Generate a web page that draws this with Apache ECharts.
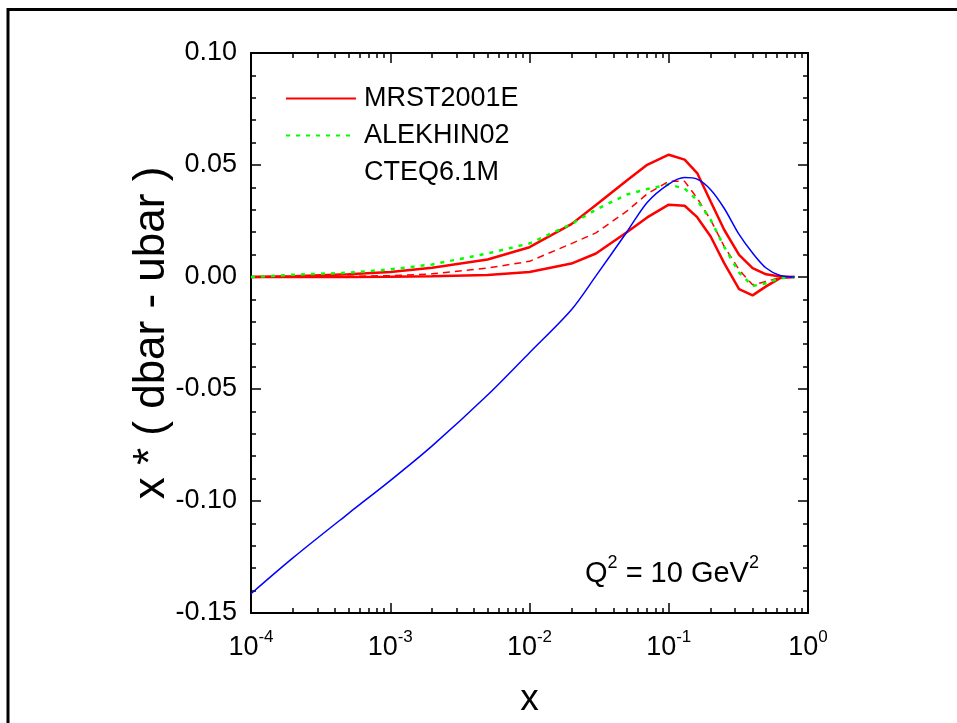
<!DOCTYPE html>
<html><head><meta charset="utf-8">
<script src="https://cdn.jsdelivr.net/npm/echarts@6/dist/echarts.min.js"></script>
<style>html,body{margin:0;padding:0;background:#fff}#c{width:957px;height:723px}</style>
</head><body><div id="c"></div>
<script>
// ---- data ----
const xValues     = [1e-4, 2e-4, 5e-4, 1e-3, 2e-3, 5e-3, 0.01, 0.02, 0.03, 0.05, 0.07, 0.1, 0.13, 0.16, 0.2, 0.25, 0.32, 0.4, 0.5, 0.63, 0.8];
const mrstUpper   = [0.0, 0.0003, 0.0012, 0.0022, 0.0041, 0.0078, 0.0133, 0.0236, 0.0321, 0.0431, 0.0501, 0.0546, 0.0524, 0.0464, 0.0337, 0.0211, 0.0099, 0.0040, 0.0012, 0.0002, 0.0];
const mrstLower   = [0.0, 0.0, 0.0, 0.0001, 0.0003, 0.0009, 0.0022, 0.0060, 0.0105, 0.0200, 0.0266, 0.0323, 0.0318, 0.0267, 0.0181, 0.0062, -0.0054, -0.0082, -0.0042, -0.0005, 0.0];
const mrstCentral = [0.0, 0.0001, 0.0003, 0.0006, 0.0014, 0.0040, 0.0070, 0.0149, 0.0197, 0.0294, 0.0371, 0.0427, 0.0427, 0.0352, 0.0255, 0.0137, 0.0032, -0.0035, -0.0020, -0.0002, 0.0];
const alekhin02   = [0.0, 0.0010, 0.0019, 0.0034, 0.0056, 0.0105, 0.0150, 0.0236, 0.0301, 0.0368, 0.0393, 0.0413, 0.0395, 0.0343, 0.0255, 0.0135, 0.0020, -0.0040, -0.0028, -0.0005, 0.0];
const cteq61m     = [-0.1414, -0.1254, -0.1056, -0.0909, -0.0754, -0.0527, -0.0338, -0.0146, 0.0005, 0.0201, 0.0333, 0.0415, 0.0444, 0.0437, 0.0390, 0.0307, 0.0190, 0.0107, 0.0040, 0.0007, 0.0];
const xTickExponents = [-4, -3, -2, -1, 0];
const yTickValues = [-0.15, -0.10, -0.05, 0.00, 0.05, 0.10];
const legendNames = ['MRST2001E', 'ALEKHIN02', 'CTEQ6.1M'];

const FONT = '"Liberation Sans", Arial, sans-serif';
const pairs = arr => xValues.map((x, i) => [x, arr[i]]);
const minorLog = [];
for (let e = xTickExponents[0]; e < xTickExponents[xTickExponents.length - 1]; e++)
  for (let k = 2; k <= 9; k++) minorLog.push(e + Math.log10(k));

const chart = echarts.init(document.getElementById('c'), null, {renderer: 'canvas'});
const tickStyle = {color: '#000', width: 1.5};
const axisLineStyle = {show: true, onZero: false, lineStyle: {color: '#000', width: 2}};
const supRich = {
  n: {fontSize: 27, fontFamily: FONT, color: '#000'},
  s: {fontSize: 17, fontFamily: FONT, color: '#000', verticalAlign: 'top', padding: [0, 0, 20, 0]}
};
const qRich = {
  n: {fontSize: 29, fontFamily: FONT, color: '#000'},
  s: {fontSize: 18, fontFamily: FONT, color: '#000', verticalAlign: 'top', padding: [0, 0, 21, 0]}
};
const option = {
  animation: false,
  backgroundColor: '#fff',
  grid: {left: 251, top: 53, right: 149, bottom: 108},
  legend: {
    orient: 'vertical', left: 285, top: 85, itemWidth: 70, itemHeight: 14, itemGap: 10,
    padding: 0,
    textStyle: {fontSize: 27, fontFamily: FONT, color: '#000', padding: [0, 0, 0, 3]},
    itemStyle: {opacity: 0},
    data: [
      {name: legendNames[0]},
      {name: legendNames[1]},
      {name: legendNames[2], lineStyle: {opacity: 0}}
    ]
  },
  xAxis: [
    {
      type: 'log', logBase: 10, min: Math.pow(10, xTickExponents[0]), max: Math.pow(10, xTickExponents[4]), position: 'bottom',
      axisLine: axisLineStyle, splitLine: {show: false},
      name: 'x', nameLocation: 'middle', nameGap: 68, nameMoveOverlap: false,
      nameTextStyle: {fontSize: 37, fontFamily: FONT, color: '#000'},
      axisTick: {show: true, inside: true, length: 10, lineStyle: tickStyle},
      axisLabel: {
        margin: 16, color: '#000',
        formatter: v => '{n|10}{s|' + Math.round(Math.log10(v)) + '}',
        rich: supRich
      }
    },
    {
      type: 'log', logBase: 10, min: Math.pow(10, xTickExponents[0]), max: Math.pow(10, xTickExponents[4]), position: 'top',
      axisLine: axisLineStyle, splitLine: {show: false},
      axisTick: {show: true, inside: true, length: 10, lineStyle: tickStyle},
      axisLabel: {show: false}
    },
    {
      type: 'value', min: xTickExponents[0], max: xTickExponents[4], position: 'bottom',
      axisLine: {show: false, onZero: false}, splitLine: {show: false}, axisLabel: {show: false},
      axisTick: {show: true, inside: true, length: 5, customValues: minorLog, lineStyle: tickStyle}
    },
    {
      type: 'value', min: xTickExponents[0], max: xTickExponents[4], position: 'top',
      axisLine: {show: false, onZero: false}, splitLine: {show: false}, axisLabel: {show: false},
      axisTick: {show: true, inside: true, length: 5, customValues: minorLog, lineStyle: tickStyle}
    }
  ],
  yAxis: [
    {
      type: 'value', min: yTickValues[0], max: yTickValues[yTickValues.length - 1], interval: 0.05, position: 'left',
      axisLine: axisLineStyle, splitLine: {show: false},
      name: 'x * ( dbar - ubar )', nameLocation: 'middle', nameGap: 77, nameRotate: 90, nameMoveOverlap: false,
      nameTextStyle: {fontSize: 44, fontFamily: FONT, color: '#000'},
      axisTick: {show: true, inside: true, length: 10, lineStyle: tickStyle},
      minorTick: {show: true, splitNumber: 5, length: 5, lineStyle: tickStyle},
      axisLabel: {margin: 14, fontSize: 27, fontFamily: FONT, color: '#000', formatter: v => v.toFixed(2)}
    },
    {
      type: 'value', min: yTickValues[0], max: yTickValues[yTickValues.length - 1], interval: 0.05, position: 'right',
      axisLine: axisLineStyle, splitLine: {show: false},
      axisTick: {show: true, inside: true, length: 10, lineStyle: tickStyle},
      minorTick: {show: true, splitNumber: 5, length: 5, lineStyle: tickStyle},
      axisLabel: {show: false}
    }
  ],
  graphic: [
    {type: 'rect', silent: true, shape: {x: 8, y: 9.5, width: 1200, height: 1200},
     style: {fill: 'none', stroke: '#000', lineWidth: 3}},
    {type: 'text', left: 585, top: 554, silent: true,
     style: {text: '{n|Q}{s|2}{n| = 10 GeV}{s|2}', rich: qRich, fill: '#000'}}
  ],
  series: [
    {name: legendNames[0], type: 'line', data: pairs(mrstUpper), symbol: 'none',
     lineStyle: {color: '#ff0000', width: 2.5, type: 'solid'}, itemStyle: {color: '#ff0000'}},
    {name: legendNames[0], type: 'line', data: pairs(mrstLower), symbol: 'none',
     lineStyle: {color: '#ff0000', width: 2.5, type: 'solid'}, itemStyle: {color: '#ff0000'}},
    {name: legendNames[0], type: 'line', data: pairs(mrstCentral), symbol: 'none',
     lineStyle: {color: '#ff0000', width: 1.5, type: [7, 5]}, itemStyle: {color: '#ff0000'}},
    {name: legendNames[1], type: 'line', data: pairs(alekhin02), symbol: 'none',
     lineStyle: {color: '#00ff00', width: 2.5, type: [4, 6]}, itemStyle: {color: '#00ff00'}},
    {name: legendNames[2], type: 'line', data: pairs(cteq61m), symbol: 'none', smooth: 0.3,
     lineStyle: {color: '#0000ff', width: 1.5}, itemStyle: {color: '#0000ff'}}
  ]
};
chart.setOption(option);
</script>
</body></html>
